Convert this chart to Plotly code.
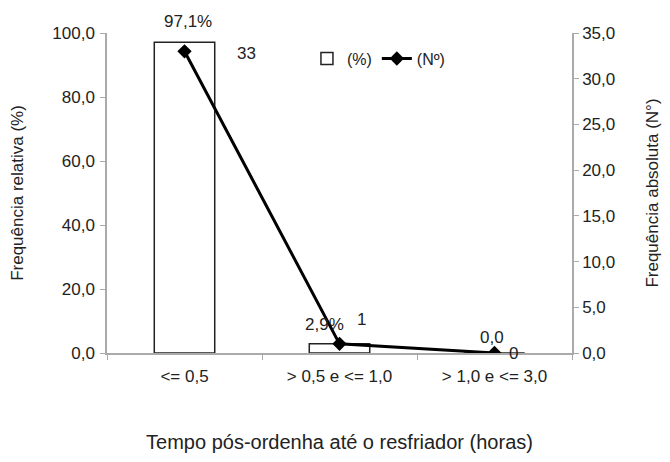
import plotly.graph_objects as go

categories = ["<= 0,5", "> 0,5 e <= 1,0", "> 1,0 e <= 3,0"]
pct_values = [97.1, 2.9, 0.0]
pct_labels = ["97,1%", "2,9%", "0,0"]
n_values = [33, 1, 0]
n_labels = ["33", "1", "0"]

# label offsets in pixels (x right, y up) - styling only
pct_off = [(3, 21), (-15, 19), (-3, 16)]
n_off = [(62, -2), (22, 24), (19, 0)]

font = "Liberation Sans, Arial, sans-serif"
txt = "#222222"

fig = go.Figure()
fig.add_trace(go.Bar(
    x=categories, y=pct_values, name="(%)", width=0.39,
    marker=dict(color="white", line=dict(color="#222222", width=1.5)),
))
fig.add_trace(go.Scatter(
    x=categories, y=n_values, name="(Nº)", yaxis="y2", mode="lines+markers",
    line=dict(color="black", width=3),
    marker=dict(symbol="diamond", size=11, color="black"),
))

for c, v, t, (dx, dy) in zip(categories, pct_values, pct_labels, pct_off):
    fig.add_annotation(x=c, y=v, xref="x", yref="y", text=t, showarrow=False,
                       xshift=dx, yshift=dy, yanchor="middle",
                       font=dict(size=17, color=txt, family=font))
for c, v, t, (dx, dy) in zip(categories, n_values, n_labels, n_off):
    fig.add_annotation(x=c, y=v, xref="x", yref="y2", text=t, showarrow=False,
                       xshift=dx, yshift=dy, yanchor="middle",
                       font=dict(size=17, color=txt, family=font))

axis_common = dict(showgrid=False, zeroline=False, showline=True, linecolor="#aaaaaa",
                   linewidth=1.5, ticks="outside", ticklen=5, tickcolor="#aaaaaa",
                   automargin=False,
                   tickfont=dict(size=17, color=txt, family=font))

fig.update_layout(
    width=654, height=446,
    margin=dict(l=99, r=90, t=25, b=101),
    paper_bgcolor="white", plot_bgcolor="white",
    separators=",.",
    showlegend=True,
    legend=dict(orientation="h", x=0.43, y=0.92, xanchor="left", yanchor="middle",
                font=dict(size=16, color=txt, family=font), bgcolor="rgba(0,0,0,0)",
                tracegroupgap=0),
    xaxis=dict(**axis_common, tickson="boundaries", ticklabelstandoff=7,
               title=dict(text="Tempo pós-ordenha até o resfriador (horas)",
                          font=dict(size=20, color=txt, family=font), standoff=50)),
    yaxis=dict(**axis_common, range=[0, 100], dtick=20, tickformat=".1f",
               ticklabelstandoff=2,
               title=dict(text="Frequência relativa (%)",
                          font=dict(size=17, color=txt, family=font), standoff=28)),
    yaxis2=dict(**axis_common, overlaying="y", side="right", range=[0, 35], dtick=5,
                tickformat=".1f",
                title=dict(text="Frequência absoluta (N°)",
                           font=dict(size=17, color=txt, family=font), standoff=33)),
)

fig.write_html("out.html")
